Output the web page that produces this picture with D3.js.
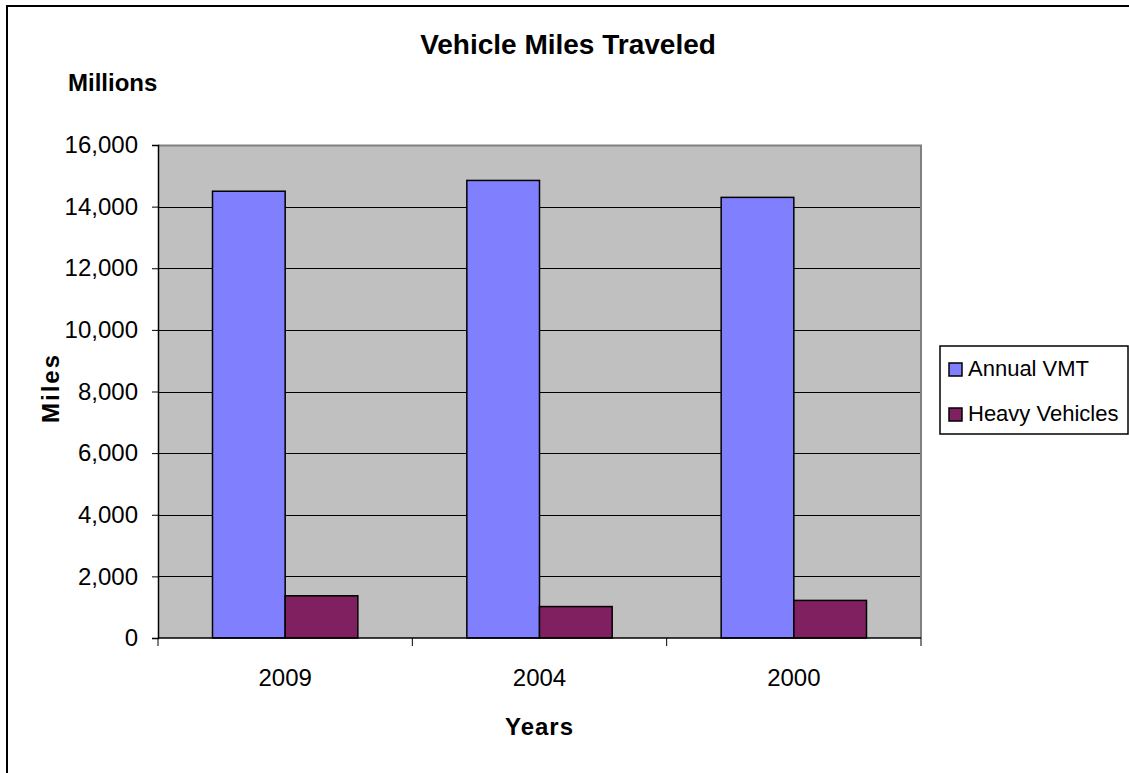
<!DOCTYPE html>
<html>
<head>
<meta charset="utf-8">
<script src="https://cdn.jsdelivr.net/npm/d3@7"></script>
<style>
  html, body { margin: 0; padding: 0; background: #fff; }
  svg text { font-family: "Liberation Sans", Arial, sans-serif; fill: #000; }
</style>
</head>
<body>
<svg id="chart" width="1129" height="773"></svg>
<script>
// ---- data ----
const years = ['2009', '2004', '2000'];
const seriesNames = ['Annual VMT', 'Heavy Vehicles'];
const annualVMT = [14500, 14850, 14300];
const heavyVehicles = [1370, 1020, 1220];
const yTicks = [0, 2000, 4000, 6000, 8000, 10000, 12000, 14000, 16000];

const COLORS = ['#8080ff', '#802060'];

const svg = d3.select('#chart');
const W = 1129, H = 773;
const m = { t: 145, r: 208, b: 135, l: 158 };
const innerW = W - m.l - m.r, innerH = H - m.t - m.b;

// outer chart border (runs off the right/bottom edge like the original)
svg.append('rect')
  .attr('x', 7).attr('y', 6).attr('width', W + 20).attr('height', H + 20)
  .attr('fill', '#fff').attr('stroke', '#000').attr('stroke-width', 2);

const g = svg.append('g').attr('transform', `translate(${m.l},${m.t})`);

const x0 = d3.scaleBand().domain(years).range([0, innerW]).paddingInner(0).paddingOuter(0);
// gap width ~150% of a bar -> 0.75 bar of padding each side
const x1 = d3.scaleBand().domain(seriesNames).range([0, x0.bandwidth()])
  .paddingInner(0).paddingOuter(0.75);
const y = d3.scaleLinear().domain([0, 16000]).range([innerH, 0]);

// plot area
g.append('rect').attr('width', innerW).attr('height', innerH).attr('fill', '#c0c0c0');

// gridlines
g.append('g').selectAll('line').data(yTicks.filter(d => d > 0 && d < 16000)).join('line')
  .attr('x1', 0).attr('x2', innerW)
  .attr('y1', d => Math.round(y(d)) + 0.5).attr('y2', d => Math.round(y(d)) + 0.5)
  .attr('stroke', '#000').attr('stroke-width', 1);

// plot border top/right (grey)
g.append('path')
  .attr('d', `M0,0.5H${innerW}V${innerH}`)
  .attr('fill', 'none').attr('stroke', '#808080').attr('stroke-width', 2);

// bars
const rows = years.map((yr, i) => ({ year: yr, values: [annualVMT[i], heavyVehicles[i]] }));
g.append('g').selectAll('g').data(rows).join('g')
  .attr('transform', d => `translate(${x0(d.year)},0)`)
  .selectAll('rect').data(d => d.values.map((v, j) => ({ key: seriesNames[j], v, j }))).join('rect')
    .attr('x', d => x1(d.key))
    .attr('y', d => y(d.v))
    .attr('width', x1.bandwidth())
    .attr('height', d => innerH - y(d.v))
    .attr('fill', d => COLORS[d.j])
    .attr('stroke', '#000').attr('stroke-width', 1.5);

// y axis
const yAxis = g.append('g')
  .call(d3.axisLeft(y).tickValues(yTicks).tickFormat(d3.format(',')).tickSize(6).tickPadding(14));
yAxis.select('.domain').attr('stroke', '#000').attr('stroke-width', 1.5);
yAxis.selectAll('.tick line').attr('stroke', '#000');
yAxis.selectAll('text').style('font-size', '24px').attr('fill', '#000');

// x axis: ticks sit on category boundaries
const xAxisG = g.append('g').attr('transform', `translate(0,${innerH})`);
xAxisG.append('line').attr('x1', 0).attr('x2', innerW).attr('y1', 0).attr('y2', 0)
  .attr('stroke', '#000').attr('stroke-width', 1.5);
const bounds = years.map(d => x0(d)).concat([innerW]);
xAxisG.selectAll('line.tk').data(bounds).join('line').attr('class', 'tk')
  .attr('x1', d => d).attr('x2', d => d).attr('y1', 0).attr('y2', 8)
  .attr('stroke', '#000');
xAxisG.selectAll('text').data(years).join('text')
  .attr('x', d => x0(d) + x0.bandwidth() / 2).attr('y', 48)
  .attr('text-anchor', 'middle').style('font-size', '24px')
  .text(d => d);

// titles
svg.append('text').attr('x', 568).attr('y', 54).attr('text-anchor', 'middle')
  .style('font-size', '28px').style('font-weight', 'bold').text('Vehicle Miles Traveled');
svg.append('text').attr('x', 68).attr('y', 91)
  .style('font-size', '24px').style('font-weight', 'bold').text('Millions');
svg.append('text').attr('x', m.l + innerW / 2).attr('y', 735).attr('text-anchor', 'middle')
  .style('font-size', '24px').style('font-weight', 'bold').style('letter-spacing', '1px').text('Years');
svg.append('text').attr('transform', 'translate(59,388) rotate(-90)').attr('text-anchor', 'middle')
  .style('font-size', '24px').style('font-weight', 'bold').style('letter-spacing', '2px').text('Miles');

// legend
const lg = svg.append('g').attr('transform', 'translate(940,346)');
lg.append('rect').attr('width', 188).attr('height', 88).attr('fill', '#fff')
  .attr('stroke', '#000').attr('stroke-width', 1.5);
const li = lg.selectAll('g').data(seriesNames).join('g')
  .attr('transform', (d, i) => `translate(9,${17 + i * 45})`);
li.append('rect').attr('width', 13).attr('height', 13)
  .attr('fill', (d, i) => COLORS[i]).attr('stroke', '#000').attr('stroke-width', 1.5);
li.append('text').attr('x', 19).attr('y', 13).style('font-size', '22px').text(d => d);
</script>
</body>
</html>
